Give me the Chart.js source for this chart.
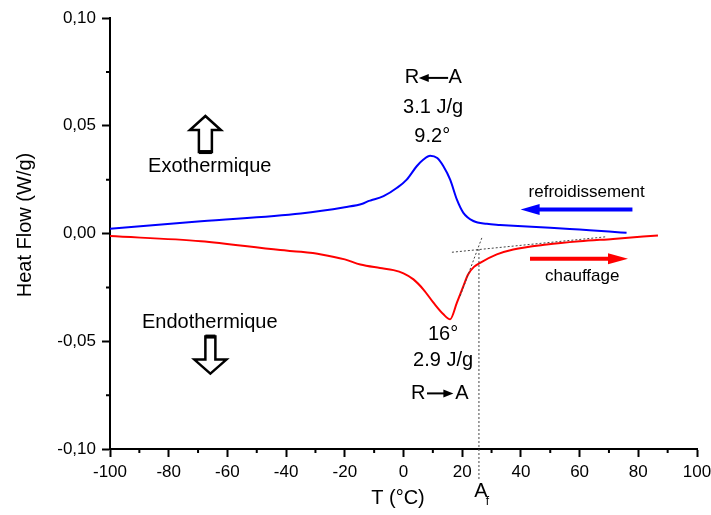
<!DOCTYPE html>
<html>
<head>
<meta charset="utf-8">
<script src="https://cdn.jsdelivr.net/npm/chart.js@4"></script>
<style>
  body { margin: 0; background: #fff; }
  canvas { display: block; }
</style>
</head>
<body>
<canvas id="dsc" width="711" height="515"></canvas>
<script>
// cooling curve (blue), R <- A
const tempCool = [-100, -69, -35, -20, -14, -12, -11, -6.8, -2.2, 1.1, 4.5, 6.8, 9.1, 11.5, 13.6, 15.9, 18.2, 20.4, 23.8, 28.4, 32.9, 37.4, 50, 60, 70, 76];
const flowCool = [0.0022, 0.0057, 0.0093, 0.0122, 0.0138, 0.0150, 0.0154, 0.0173, 0.0212, 0.0250, 0.0312, 0.0343, 0.0361, 0.0350, 0.0312, 0.0250, 0.0157, 0.0096, 0.0058, 0.0045, 0.0040, 0.0036, 0.0027, 0.0018, 0.0009, 0.0003];

// heating curve (red), R -> A
const tempHeat = [-100, -69, -42, -35, -28, -20, -14.7, -8, -3.4, 0, 3.4, 6.8, 10.2, 13.6, 15.9, 18.2, 20.4, 22, 24, 26.1, 31.8, 37.4, 48.8, 60, 71.4, 86.7];
const flowHeat = [-0.0012, -0.0036, -0.0077, -0.0085, -0.0097, -0.0120, -0.0144, -0.0160, -0.0170, -0.0185, -0.0213, -0.0260, -0.0321, -0.0375, -0.0398, -0.0321, -0.0244, -0.0190, -0.0155, -0.0136, -0.0097, -0.0074, -0.0051, -0.0036, -0.0025, -0.0009];

// onset construction (dotted)
const baseT = [16.5, 69.2];
const baseF = [-0.0087, -0.0015];
const slopeT = [19.3, 26.7];
const slopeF = [-0.029, -0.002];
const afT = [25.7, 25.7];
const afF = [-0.0072, -0.1148];

const xTicks = [-100, -80, -60, -40, -20, 0, 20, 40, 60, 80, 100];
const yTicks = [-0.10, -0.05, 0.00, 0.05, 0.10];

const FONT = '"Liberation Sans", Arial, sans-serif';

function pts(xs, ys) {
  return xs.map((v, i) => ({ x: v, y: ys[i] }));
}

function arrowLine(ctx, x1, y, x2, lw, headLen, headHalf, color) {
  const dir = x2 > x1 ? 1 : -1;
  ctx.strokeStyle = color;
  ctx.fillStyle = color;
  ctx.lineWidth = lw;
  ctx.beginPath();
  ctx.moveTo(x1, y);
  ctx.lineTo(x2 - dir * headLen * 0.8, y);
  ctx.stroke();
  ctx.beginPath();
  ctx.moveTo(x2, y);
  ctx.lineTo(x2 - dir * headLen, y - headHalf);
  ctx.lineTo(x2 - dir * headLen, y + headHalf);
  ctx.closePath();
  ctx.fill();
}

const annot = {
  id: 'annot',
  afterDraw(chart) {
    const ctx = chart.ctx;
    const xs = chart.scales.x, ys = chart.scales.y;
    const X = v => xs.getPixelForValue(v);
    const Y = v => ys.getPixelForValue(v);
    ctx.save();

    // minor ticks
    ctx.strokeStyle = '#000';
    ctx.lineWidth = 2;
    ctx.beginPath();
    for (let t = -90; t < 100; t += 20) {
      ctx.moveTo(X(t), ys.bottom);
      ctx.lineTo(X(t), ys.bottom + 4);
    }
    [-0.075, -0.025, 0.025, 0.075].forEach(v => {
      ctx.moveTo(xs.left - 4, Y(v));
      ctx.lineTo(xs.left, Y(v));
    });
    ctx.stroke();

    // axis titles
    ctx.fillStyle = '#000';
    ctx.font = '20px ' + FONT;
    ctx.textAlign = 'center';
    ctx.textBaseline = 'middle';
    ctx.fillText('T (°C)', 398, 498);
    ctx.save();
    ctx.translate(25, 225);
    ctx.rotate(-Math.PI / 2);
    ctx.fillText('Heat Flow (W/g)', 0, 0);
    ctx.restore();

    // A_f label
    ctx.fillText('A', X(25.7) + 2, 491);
    ctx.font = '12px ' + FONT;
    ctx.fillText('f', X(25.7) + 8.5, 502);

    // peak annotations
    ctx.font = '20px ' + FONT;
    ctx.fillText('R', X(2.86), Y(0.0722));
    ctx.fillText('A', X(17.6), Y(0.0722));
    arrowLine(ctx, X(15.2), Y(0.0722), X(5.2), 2, 10, 4, '#000');
    ctx.fillText('3.1 J/g', X(10.1), Y(0.0583));
    ctx.fillText('9.2°', X(9.8), Y(0.045));

    ctx.fillText('16°', X(13.5), Y(-0.0468));
    ctx.fillText('2.9 J/g', X(13.5), Y(-0.0591));
    ctx.fillText('R', X(5.0), Y(-0.0742));
    ctx.fillText('A', X(19.9), Y(-0.0742));
    arrowLine(ctx, X(8.0), Y(-0.0742), X(17.0), 2, 10, 4, '#000');

    ctx.fillText('Exothermique', X(-66), Y(0.031));
    ctx.fillText('Endothermique', X(-66), Y(-0.0411));

    // hollow up arrow
    ctx.strokeStyle = '#000';
    ctx.lineWidth = 2.5;
    ctx.lineJoin = 'miter';
    let cx = X(-67.5), ty = Y(0.0545);
    ctx.beginPath();
    ctx.moveTo(cx, ty);
    ctx.lineTo(cx + 15.5, ty + 14);
    ctx.lineTo(cx + 6.5, ty + 14);
    ctx.lineTo(cx + 6.5, ty + 36);
    ctx.lineTo(cx - 6.5, ty + 36);
    ctx.lineTo(cx - 6.5, ty + 14);
    ctx.lineTo(cx - 15.5, ty + 14);
    ctx.closePath();
    ctx.stroke();
    ctx.lineWidth = 4;
    ctx.beginPath();
    ctx.moveTo(cx - 6.5, ty + 36);
    ctx.lineTo(cx + 6.5, ty + 36);
    ctx.stroke();

    // hollow down arrow
    ctx.lineWidth = 2.5;
    cx = X(-65.8); ty = Y(-0.0650);
    ctx.beginPath();
    ctx.moveTo(cx, ty);
    ctx.lineTo(cx + 16, ty - 14);
    ctx.lineTo(cx + 5, ty - 14);
    ctx.lineTo(cx + 5, ty - 37);
    ctx.lineTo(cx - 5, ty - 37);
    ctx.lineTo(cx - 5, ty - 14);
    ctx.lineTo(cx - 16, ty - 14);
    ctx.closePath();
    ctx.stroke();
    ctx.lineWidth = 4;
    ctx.beginPath();
    ctx.moveTo(cx - 5, ty - 37);
    ctx.lineTo(cx + 5, ty - 37);
    ctx.stroke();

    // cooling / heating direction arrows
    ctx.font = '17px ' + FONT;
    ctx.fillStyle = '#000';
    ctx.fillText('refroidissement', X(62.4), Y(0.0193));
    ctx.fillText('chauffage', X(60.9), Y(-0.020));
    arrowLine(ctx, X(78.0), Y(0.0111), X(39.9), 4, 19, 5.5, '#0000ff');
    arrowLine(ctx, X(43.1), Y(-0.0117), X(76.5), 4, 20, 5.5, '#ff0000');

    ctx.restore();
  }
};

const dotted = { borderColor: '#444', borderWidth: 1, borderDash: [2, 2], pointRadius: 0, order: 0 };

new Chart(document.getElementById('dsc'), {
  type: 'line',
  data: {
    datasets: [
      Object.assign({ data: pts(baseT, baseF) }, dotted),
      Object.assign({ data: pts(slopeT, slopeF) }, dotted),
      Object.assign({ data: pts(afT, afF), clip: false }, dotted),
      {
        label: 'refroidissement',
        data: pts(tempCool, flowCool),
        borderColor: '#0000ff',
        borderWidth: 2,
        pointRadius: 0,
        cubicInterpolationMode: 'monotone',
        order: 1
      },
      {
        label: 'chauffage',
        data: pts(tempHeat, flowHeat),
        borderColor: '#ff0000',
        borderWidth: 2,
        pointRadius: 0,
        cubicInterpolationMode: 'monotone',
        order: 1
      }
    ]
  },
  options: {
    responsive: false,
    animation: false,
    layout: { padding: { top: 18, right: 14, left: 0, bottom: 0 } },
    plugins: { legend: { display: false }, tooltip: { enabled: false } },
    scales: {
      x: {
        type: 'linear',
        min: -100,
        max: 100,
        afterFit: s => { s.height = 66; s.paddingLeft = 0; s.paddingRight = 0; },
        afterBuildTicks: s => { s.ticks = xTicks.map(v => ({ value: v })); },
        border: { display: true, color: '#000', width: 2 },
        grid: { drawOnChartArea: false, drawTicks: true, tickLength: 8, tickWidth: 2, tickColor: '#000' },
        ticks: { color: '#000', padding: 5, font: { size: 17, family: FONT }, maxRotation: 0, callback: v => String(v) }
      },
      y: {
        type: 'linear',
        min: -0.1,
        max: 0.1,
        afterFit: s => { s.width = 110; s.paddingTop = 0; s.paddingBottom = 0; },
        afterBuildTicks: s => { s.ticks = yTicks.map(v => ({ value: v })); },
        border: { display: true, color: '#000', width: 2 },
        grid: { drawOnChartArea: false, drawTicks: true, tickLength: 8, tickWidth: 2, tickColor: '#000' },
        ticks: { color: '#000', padding: 6, font: { size: 17, family: FONT }, callback: v => (Math.abs(v) < 1e-9 ? 0 : v).toFixed(2).replace('.', ',') }
      }
    }
  },
  plugins: [annot]
});
</script>
</body>
</html>
